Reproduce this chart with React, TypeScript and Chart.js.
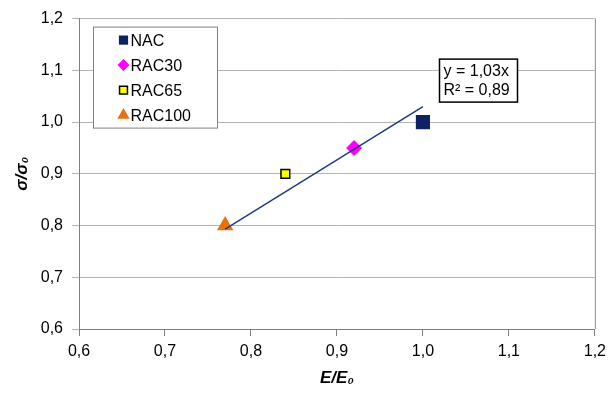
import React, { useEffect, useRef } from 'react';
import { Chart, registerables } from 'chart.js';

Chart.register(...registerables);

// ---- data ----
const seriesNames = ['NAC', 'RAC30', 'RAC65', 'RAC100'];
const xValues = [1.0, 0.92, 0.84, 0.77];
const yValues = [1.0, 0.95, 0.9, 0.8];
const trendSlope = 1.03;
const rSquared = 0.89;
const axisMin = 0.6;
const axisMax = 1.2;
const axisStep = 0.1;
const xTitle = 'E/E₀';
const yTitle = 'σ/σ₀';

// ---- styles ----
const pointStyles = ['rect', 'rectRot', 'rect', 'triangle'];
const pointRadii = [10, 8, 6.2, 9.5];
const fillColors = ['#0c2262', '#ff00ff', '#ffff00', '#e8700f'];
const strokeColors = ['#0c2262', '#ff00ff', '#000000', '#e8700f'];
const strokeWidths = [0, 0, 1.5, 0];
const FONT = '"Liberation Sans", Arial, sans-serif';

const fmt = (v: number) => v.toFixed(1).replace('.', ',');
const fmt2 = (v: number) => v.toFixed(2).replace('.', ',');

function drawMarker(ctx: CanvasRenderingContext2D, i: number, x: number, y: number, scale: number) {
  const style = pointStyles[i];
  const r = pointRadii[i] * scale;
  ctx.save();
  ctx.beginPath();
  if (style === 'rect') {
    const s = Math.SQRT1_2 * r;
    ctx.rect(x - s, y - s, 2 * s, 2 * s);
  } else if (style === 'rectRot') {
    ctx.moveTo(x, y - r);
    ctx.lineTo(x + r, y);
    ctx.lineTo(x, y + r);
    ctx.lineTo(x - r, y);
    ctx.closePath();
  } else {
    const h = r * 1.5;
    const w = r * Math.sqrt(3);
    ctx.moveTo(x, y - r);
    ctx.lineTo(x + w / 2, y - r + h);
    ctx.lineTo(x - w / 2, y - r + h);
    ctx.closePath();
  }
  ctx.fillStyle = fillColors[i];
  ctx.fill();
  if (strokeWidths[i] > 0) {
    ctx.lineWidth = strokeWidths[i];
    ctx.strokeStyle = strokeColors[i];
    ctx.stroke();
  }
  ctx.restore();
}

const boxesPlugin = {
  id: 'boxes',
  beforeDatasetsDraw(chart: any) {
    const { ctx, chartArea } = chart;
    ctx.save();
    ctx.strokeStyle = '#8c8c8c';
    ctx.lineWidth = 1;
    ctx.beginPath();
    ctx.moveTo(chartArea.right + 0.5, chartArea.top);
    ctx.lineTo(chartArea.right + 0.5, chartArea.bottom);
    ctx.stroke();
    ctx.restore();
  },
  afterDraw(chart: any) {
    const { ctx, chartArea } = chart;
    ctx.save();
    // legend box
    const lx = chartArea.left + 14.5;
    const ly = chartArea.top + 8.5;
    const lw = 124;
    const lh = 101;
    ctx.fillStyle = '#ffffff';
    ctx.fillRect(lx, ly, lw, lh);
    ctx.strokeStyle = '#808080';
    ctx.lineWidth = 1;
    ctx.strokeRect(lx, ly, lw, lh);
    ctx.font = `16px ${FONT}`;
    ctx.textBaseline = 'middle';
    ctx.textAlign = 'left';
    seriesNames.forEach((name, i) => {
      const cy = ly + 13 + i * 25;
      drawMarker(ctx, i, lx + 30, cy, i === 0 ? 0.65 : i === 2 ? 0.9 : 0.75);
      ctx.fillStyle = '#000000';
      ctx.fillText(name, lx + 37, cy + 1);
    });
    // trendline equation box
    const bx = chartArea.left + 360.5;
    const by = chartArea.top + 40.5;
    const bw = 78;
    const bh = 43;
    ctx.fillStyle = '#ffffff';
    ctx.fillRect(bx, by, bw, bh);
    ctx.strokeStyle = '#000000';
    ctx.lineWidth = 1.5;
    ctx.strokeRect(bx, by, bw, bh);
    ctx.fillStyle = '#000000';
    ctx.font = `16px ${FONT}`;
    ctx.fillText(`y = ${fmt2(trendSlope)}x`, bx + 4, by + 12);
    ctx.fillText(`R² = ${fmt2(rSquared)}`, bx + 4, by + 31);
    ctx.restore();
  },
};

export default function App() {
  const ref = useRef<HTMLCanvasElement>(null);
  useEffect(() => {
    document.body.style.margin = '0';
    const canvas = ref.current!;
    const xMin = Math.min(...xValues);
    const xMax = Math.max(...xValues);
    const datasets: any[] = [
      {
        label: 'trend',
        data: [
          { x: xMin, y: trendSlope * xMin },
          { x: xMax, y: trendSlope * xMax },
        ],
        showLine: true,
        borderColor: '#1f3b7d',
        borderWidth: 1.5,
        pointRadius: 0,
        order: 0,
      },
      ...seriesNames.map((name, i) => ({
        label: name,
        data: [{ x: xValues[i], y: yValues[i] }],
        pointStyle: pointStyles[i],
        pointRadius: pointRadii[i],
        backgroundColor: fillColors[i],
        borderColor: strokeColors[i],
        borderWidth: strokeWidths[i],
        order: 1,
      })),
    ];
    const tickFont = { family: FONT, size: 16 };
    const chart = new Chart(canvas, {
      type: 'scatter',
      data: { datasets },
      options: {
        responsive: false,
        animation: false,
        layout: { padding: { top: 17, right: 14, left: 0, bottom: 0 } },
        plugins: { legend: { display: false }, tooltip: { enabled: false } },
        scales: {
          x: {
            type: 'linear',
            min: axisMin,
            max: axisMax,
            ticks: { stepSize: axisStep, callback: (v: any) => fmt(Number(v)), font: tickFont, color: '#000', padding: 6, maxRotation: 0 },
            grid: { drawOnChartArea: false, drawTicks: true, tickLength: 7, color: '#808080' },
            border: { color: '#808080', width: 1 },
            title: { display: true, text: xTitle, font: { family: FONT, size: 17, style: 'italic', weight: 'bold' }, color: '#000', padding: { top: 0, bottom: 7 } },
            afterFit: (s: any) => { s.height = 67; },
          },
          y: {
            type: 'linear',
            min: axisMin,
            max: axisMax,
            ticks: { stepSize: axisStep, callback: (v: any) => fmt(Number(v)), font: tickFont, color: '#000', padding: 9 },
            grid: { drawOnChartArea: true, drawTicks: true, tickLength: 7, color: '#b4b4b4' },
            border: { color: '#808080', width: 1 },
            title: { display: true, text: yTitle, font: { family: FONT, size: 17, style: 'italic', weight: 'bold' }, color: '#000', padding: { top: 12, bottom: 0 } },
            afterFit: (s: any) => { s.width = 79; },
          },
        },
      },
      plugins: [boxesPlugin],
    } as any);
    return () => chart.destroy();
  }, []);
  return <canvas ref={ref} width={612} height={396} style={{ display: 'block' }} />;
}
